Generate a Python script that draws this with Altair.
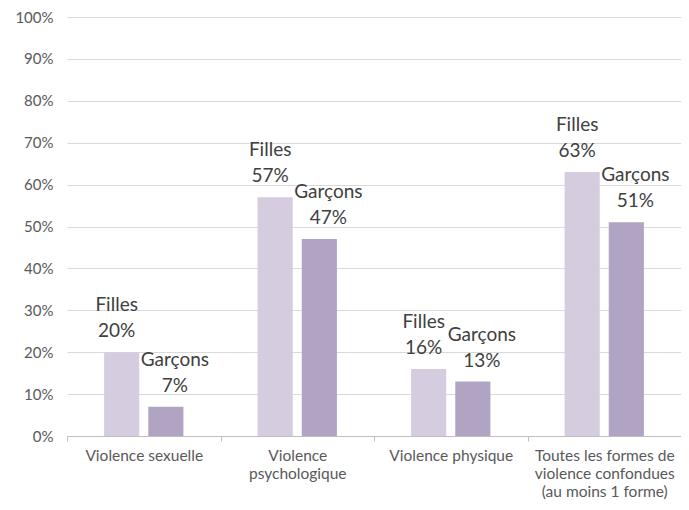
import altair as alt
import pandas as pd

categories = ["Violence sexuelle", "Violence|psychologique", "Violence physique",
              "Toutes les formes de|violence confondues|(au moins 1 forme)"]
series = ["Filles", "Garçons"]
filles = [20, 57, 16, 63]
garcons = [7, 47, 13, 51]

rows = []
for c, f, g in zip(categories, filles, garcons):
    rows.append({"cat": c, "sexe": "Filles", "val": f / 100, "lbl": f"{f}%"})
    rows.append({"cat": c, "sexe": "Garçons", "val": g / 100, "lbl": f"{g}%"})
df = pd.DataFrame(rows)

FONT = "Lato"
colors = ["#d5cce0", "#b1a3c2"]

x = alt.X("cat:N", sort=categories, title=None,
          scale=alt.Scale(paddingInner=0, paddingOuter=0),
          axis=alt.Axis(labelAngle=0, labelExpr="split(datum.label, '|')",
                        labelFont=FONT, labelFontSize=15.5, labelColor="#595959",
                        labelLineHeight=18, labelPadding=7,
                        tickBand="extent", tickSize=5, tickColor="#bfbfbf",
                        domainColor="#bfbfbf", grid=False, labelLimit=300))
xo = alt.XOffset("sexe:N", sort=series,
                 scale=alt.Scale(paddingInner=0.2045, paddingOuter=0.84))
y = alt.Y("val:Q", title=None, scale=alt.Scale(domain=[0, 1]),
          axis=alt.Axis(format=".0%", values=[i / 10 for i in range(11)],
                        labelFont=FONT, labelFontSize=15, labelColor="#595959",
                        labelPadding=14, tickSize=0, domain=False,
                        gridColor="#d9d9d9"))

base = alt.Chart(df).encode(x=x, xOffset=xo, y=y)

bars = base.mark_bar().encode(
    color=alt.Color("sexe:N", sort=series, legend=None,
                    scale=alt.Scale(domain=series, range=colors)))

def labels(sx, dx):
    sub = base.transform_filter(alt.datum.sexe == sx)
    name = sub.mark_text(font=FONT, fontSize=19, color="#404040",
                         baseline="alphabetic", dy=-41, dx=dx).encode(
        text="sexe:N")
    val = sub.mark_text(font=FONT, fontSize=19, color="#404040",
                        baseline="alphabetic", dy=-15, dx=dx).encode(
        text="lbl:N")
    return name + val

chart = alt.layer(bars, labels("Filles", -5), labels("Garçons", 9)).properties(
    width=614, height=419,
    autosize=alt.AutoSizeParams(type="none"),
    padding={"left": 59, "top": 9, "right": 0, "bottom": 66},
).configure_view(stroke=None)

chart.save("out.html", embed_options={"renderer": "svg", "actions": False})
